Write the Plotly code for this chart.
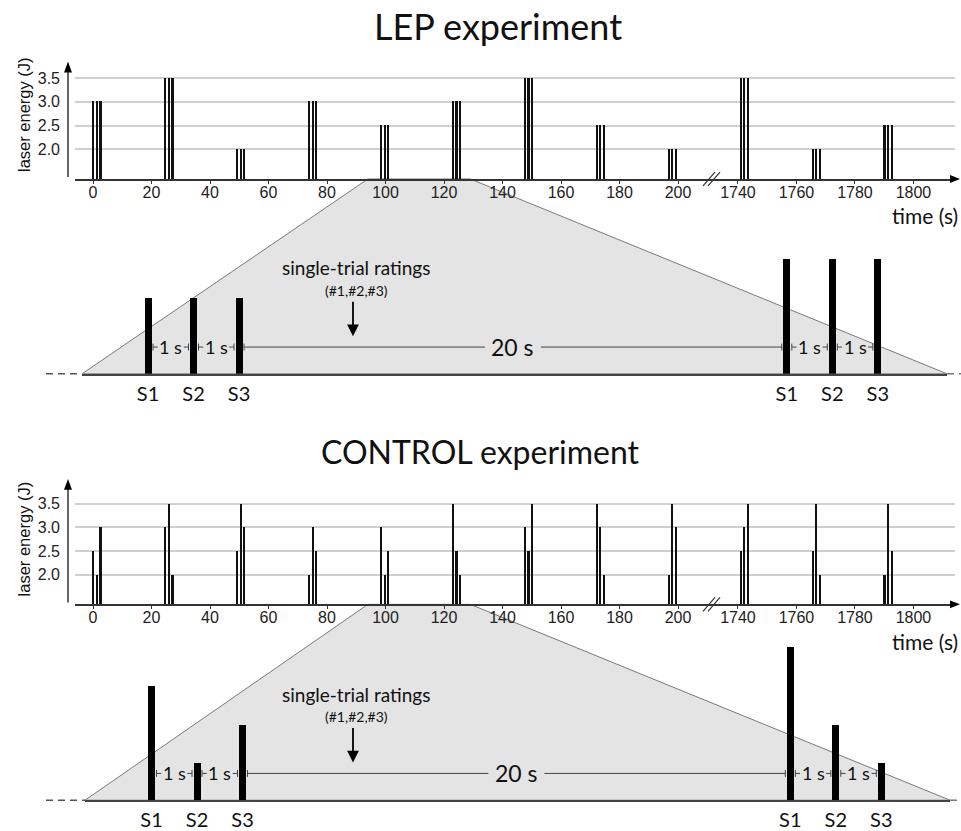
import plotly.graph_objects as go

W, H = 961, 831

# ---------------- data ----------------
TICK_TIMES = [0, 20, 40, 60, 80, 100, 120, 140, 160, 180, 200, 1740, 1760, 1780, 1800]
Y_TICKS = [2.0, 2.5, 3.0, 3.5]

# onset (s) of each stimulus triplet on the timeline
ONSETS = [0.0, 24.6, 49.2, 73.8, 98.4, 123.0, 147.6, 172.2, 196.8, 1740.9, 1765.5, 1790.1]

# LEP: same energy for S1, S2, S3 of a triplet
LEP_ENERGY = [3.0, 3.5, 2.0, 3.0, 2.5, 3.0, 3.5, 2.5, 2.0, 3.5, 2.0, 2.5]

# CONTROL: (S1, S2, S3) energies of each triplet
CONTROL_ENERGY = [
    (2.5, 2.0, 3.0),
    (3.0, 3.5, 2.0),
    (2.5, 3.5, 3.0),
    (2.0, 3.0, 2.5),
    (3.0, 2.0, 2.5),
    (3.5, 2.5, 2.0),
    (3.0, 2.5, 3.5),
    (3.5, 3.0, 2.0),
    (2.0, 3.5, 3.0),
    (2.5, 3.0, 3.5),
    (2.5, 3.5, 2.0),
    (2.0, 3.5, 2.5),
]

# magnified part of the timeline: two consecutive triplets
ZOOM_EVENTS = (4, 5)
ZOOM_SPAN = (94.0, 129.0)                 # seconds covered by the magnifier
ZOOM_TIMES = [0, 1, 2, 22, 23, 24]        # S1 S2 S3 ... 20 s ... S1 S2 S3
ZOOM_LABELS = ["S1", "S2", "S3", "S1", "S2", "S3"]
INTERVALS = [(0, 1, "1 s"), (1, 2, "1 s"), (2, 22, "20 s"), (22, 23, "1 s"), (23, 24, "1 s")]

# ---------------- geometry helpers ----------------
STIM_STEP = 1.28          # drawn spacing of the three lines of a triplet (s)
BREAK_AT = 210.0          # axis break
RESUME_T = 1740.0
RESUME_D = 220.5
T_X0, T_PXS = 93.0, 2.925          # timeline: pixel of t=0, pixels per second
T_PXJ, T_BASE = 47.7, 1.37         # timeline: pixels per J, energy at baseline
Z_PXS, Z_PXJ, Z_BASE = 45.5, 78.0, 1.52
GAP_SCALE = 0.602                  # compression of the 20 s pause in the magnifier


def tdisp(t):
    return t if t <= BREAK_AT else RESUME_D + (t - RESUME_T)


def zdisp(t):
    if t <= 2:
        return t
    if t <= 22:
        return 2 + (t - 2) * GAP_SCALE
    return 2 + 20 * GAP_SCALE + (t - 22)


def pxx(x):
    return x / W


def pxy(y):
    return 1 - y / H


def poly(pts):
    return "M " + " L ".join(f"{pxx(x):.5f},{pxy(y):.5f}" for x, y in pts) + " Z"


def label(text, x, y, size, family, **kw):
    d = dict(text=text, xref="paper", yref="paper", x=pxx(x), y=pxy(y), showarrow=False,
             xanchor="center", yanchor="middle", font=dict(family=family, size=size, color="#111"))
    d.update(kw)
    return d


LABEL_FAMILY = "Liberation Sans, Arial, sans-serif"
LABEL_FONT = dict(family=LABEL_FAMILY, size=16, color="#222")
TEXT_FONT = "Lato, Open Sans, sans-serif"
AX_COL = "#333"

fig = go.Figure()
shapes, annotations = [], []

panels = [
    dict(title="LEP experiment", title_xy=(498, 26), title_size=36, energy=[(e, e, e) for e in LEP_ENERGY],
         base=180.5, ytip=62, zbase=377, zs1=148, zl=82, zr=947, ylab=116, suffix=("", "2")),
    dict(title="CONTROL experiment", title_xy=(481, 455), title_size=32, energy=CONTROL_ENERGY,
         base=609.5, ytip=483, zbase=807, zs1=151.5, zl=85, zr=950, ylab=544, suffix=("3", "4")),
]

for p in panels:
    s_t, s_z = p["suffix"]
    base, zbase = p["base"], p["zbase"]

    # ---- timeline bars ----
    xs, ys = [], []
    for onset, trip in zip(ONSETS, p["energy"]):
        for k, e in enumerate(trip):
            xs.append(tdisp(onset + k * STIM_STEP))
            ys.append(e)
    fig.add_trace(go.Bar(x=xs, y=ys, width=0.72, marker=dict(color="#111", line=dict(width=0)),
                         xaxis="x" + s_t, yaxis="y" + s_t, showlegend=False, hoverinfo="skip"))

    top_px = p["ytip"] + 4
    fig.layout["xaxis" + s_t] = dict(
        domain=[pxx(75), pxx(955)],
        range=[(75 - T_X0) / T_PXS, (955 - T_X0) / T_PXS],
        anchor="y" + s_t, showline=True, linecolor=AX_COL, linewidth=1.5,
        ticks="outside", ticklen=3, tickcolor=AX_COL, tickwidth=1, ticklabelstandoff=-5,
        tickvals=[tdisp(t) for t in TICK_TIMES], ticktext=[str(t) for t in TICK_TIMES],
        tickfont=LABEL_FONT, showgrid=False, zeroline=False, fixedrange=True)
    fig.layout["yaxis" + s_t] = dict(
        domain=[pxy(base), pxy(top_px)],
        range=[T_BASE, T_BASE + (base - top_px) / T_PXJ],
        anchor="x" + s_t, tickvals=Y_TICKS, ticktext=[f"{v:.1f}" for v in Y_TICKS],
        tickfont=LABEL_FONT, showgrid=True, gridcolor="#cfcfcf", gridwidth=1.5,
        zeroline=False, showline=False, ticks="", ticklabelstandoff=14, fixedrange=True)

    # y axis line + arrows
    shapes.append(dict(type="line", xref="paper", yref="paper", x0=pxx(68), x1=pxx(68),
                       y0=pxy(base - 2), y1=pxy(p["ytip"] + 8), line=dict(color=AX_COL, width=1.5)))
    shapes.append(dict(type="path", xref="paper", yref="paper",
                       path=poly([(68, p["ytip"]), (64, p["ytip"] + 11), (72, p["ytip"] + 11)]),
                       fillcolor="#000", line=dict(width=0)))
    shapes.append(dict(type="path", xref="paper", yref="paper",
                       path=poly([(960, base), (950, base - 4), (950, base + 4)]),
                       fillcolor="#000", line=dict(width=0)))
    # axis break marks
    for dx in (0, 5):
        shapes.append(dict(type="line", xref="paper", yref="paper",
                           x0=pxx(703 + dx), y0=pxy(base + 7), x1=pxx(715 + dx), y1=pxy(base - 7),
                           line=dict(color=AX_COL, width=1.2)))

    annotations.append(label("laser energy (J)", 24, p["ylab"], 16.5, LABEL_FAMILY, textangle=-90))
    annotations.append(label("time (s)", 925, base + 37, 21, TEXT_FONT))
    annotations.append(label(p["title"], p["title_xy"][0], p["title_xy"][1], p["title_size"], TEXT_FONT))

    # ---- magnifier ----
    zx0 = T_X0 + T_PXS * ZOOM_SPAN[0]
    zx1 = T_X0 + T_PXS * ZOOM_SPAN[1]
    shapes.append(dict(type="path", xref="paper", yref="paper", layer="below",
                       path=poly([(zx0, base), (zx1, base), (p["zr"], zbase), (p["zl"], zbase)]),
                       fillcolor="#e4e4e4", line=dict(color="#7a7a7a", width=1)))
    shapes.append(dict(type="line", xref="paper", yref="paper", x0=pxx(46), x1=pxx(p["zl"]),
                       y0=pxy(zbase), y1=pxy(zbase), line=dict(color="#555", width=1.5, dash="7px,5px")))
    shapes.append(dict(type="line", xref="paper", yref="paper", x0=pxx(p["zr"]), x1=pxx(961),
                       y0=pxy(zbase), y1=pxy(zbase), line=dict(color="#777", width=1.5, dash="7px,5px")))

    ztrip = [e for i in ZOOM_EVENTS for e in p["energy"][i]]
    zx = [zdisp(t) for t in ZOOM_TIMES]
    fig.add_trace(go.Bar(x=zx, y=ztrip, width=7 / Z_PXS, marker=dict(color="#000", line=dict(width=0)),
                         xaxis="x" + s_z, yaxis="y" + s_z, showlegend=False, hoverinfo="skip"))
    zl, zr, s1 = p["zl"], p["zr"], p["zs1"]
    fig.layout["xaxis" + s_z] = dict(
        domain=[pxx(zl), pxx(zr)], range=[(zl - s1) / Z_PXS, (zr - s1) / Z_PXS],
        anchor="y" + s_z, showline=True, linecolor="#444", linewidth=1.5,
        tickvals=zx, ticktext=ZOOM_LABELS, ticks="", ticklabelstandoff=1,
        tickfont=dict(family=TEXT_FONT, size=20, color="#111"),
        showgrid=False, zeroline=False, fixedrange=True)
    ztop = zbase - 180
    fig.layout["yaxis" + s_z] = dict(
        domain=[pxy(zbase), pxy(ztop)], range=[Z_BASE, Z_BASE + 180 / Z_PXJ],
        anchor="x" + s_z, visible=False, fixedrange=True)

    # interval brackets
    by = Z_BASE + 27 / Z_PXJ
    th = 3.5 / Z_PXJ
    edge = 5 / Z_PXS
    for t0, t1, lab in INTERVALS:
        a, b = zdisp(t0) + edge, zdisp(t1) - edge
        mid = (zdisp(t0) + zdisp(t1)) / 2
        g = (28 if lab == "20 s" else 13) / Z_PXS
        for u0, u1 in ((a, mid - g), (mid + g, b)):
            if u1 > u0:
                shapes.append(dict(type="line", xref="x" + s_z, yref="y" + s_z, x0=u0, x1=u1, y0=by, y1=by,
                                   line=dict(color="#444", width=1)))
        for u in (a, b):
            shapes.append(dict(type="line", xref="x" + s_z, yref="y" + s_z, x0=u, x1=u, y0=by - th, y1=by + th,
                               line=dict(color="#444", width=1)))
        annotations.append(dict(text=lab, xref="x" + s_z, yref="y" + s_z, x=mid, y=by, showarrow=False,
                                xanchor="center", yanchor="middle",
                                font=dict(family=TEXT_FONT, size=23 if lab == "20 s" else 18, color="#111")))

    ry = zbase - 107
    annotations.append(label("single-trial ratings", 356, ry, 19, TEXT_FONT))
    annotations.append(label("(#1,#2,#3)", 356, ry + 23, 14, TEXT_FONT))
    annotations.append(dict(text="", xref="paper", yref="paper", x=pxx(353), y=pxy(zbase - 38),
                            ax=0, ay=-36, showarrow=True, arrowhead=2, arrowsize=1.3, arrowwidth=1.8,
                            arrowcolor="#000"))

fig.update_layout(
    width=W, height=H, autosize=False,
    margin=dict(l=0, r=0, t=0, b=0, pad=0),
    paper_bgcolor="white", plot_bgcolor="rgba(0,0,0,0)",
    barmode="overlay", bargap=0, showlegend=False,
    shapes=shapes, annotations=annotations,
)

fig.write_html("out.html")
